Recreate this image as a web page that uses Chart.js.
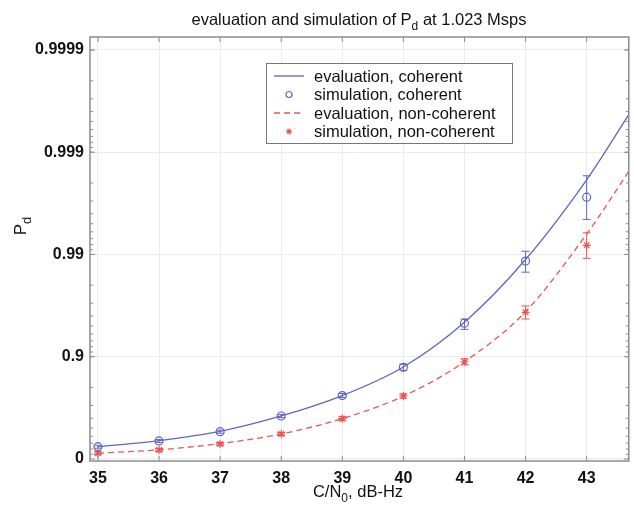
<!DOCTYPE html>
<html>
<head>
<meta charset="utf-8">
<script src="https://cdn.jsdelivr.net/npm/chart.js@4/dist/chart.umd.min.js"></script>
<style>
  html, body { margin: 0; padding: 0; background: #fff; }
  canvas { display: block; }
</style>
</head>
<body>
<canvas id="myChart" width="634" height="507"></canvas>
<script>
// C/N0 in dB-Hz
const snr = [35, 36, 37, 38, 39, 40, 41, 42, 43];
// simulated Pd with error bar limits
const cohSim = [0.241, 0.333, 0.459, 0.620, 0.760, 0.873, 0.953, 0.9884, 0.99725];
const cohLo  = [0.215, 0.310, 0.440, 0.606, 0.749, 0.8642, 0.9460, 0.9851, 0.99546];
const cohHi  = [0.267, 0.356, 0.478, 0.633, 0.771, 0.8814, 0.9572, 0.9907, 0.99830];
const ncSim  = [0.121, 0.183, 0.287, 0.430, 0.597, 0.758, 0.888, 0.9632, 0.99187];
const ncLo   = [0.090, 0.155, 0.262, 0.410, 0.578, 0.746, 0.8798, 0.9572, 0.98909];
const ncHi   = [0.151, 0.211, 0.311, 0.449, 0.615, 0.769, 0.8953, 0.9681, 0.99386];
// evaluated curves
const evalSnr = [35, 36, 37, 38, 39, 40, 41, 42, 43, 43.7];
const cohEval = [0.241, 0.339, 0.463, 0.620, 0.760, 0.874, 0.954, 0.9888, 0.99814, 0.99958];
const ncEval  = [0.121, 0.187, 0.292, 0.431, 0.597, 0.757, 0.888, 0.9637, 0.99369, 0.99849];
// y tick labels (probability scale)
const yTickLabels = ['0', '0.9', '0.99', '0.999', '0.9999'];

const blue = '#6065c6';
const red = '#ef5252';

// probability -> "number of nines"
function nines(p) {
    return -Math.log10(1 - p);
}

function pts(xs, ys) {
    return xs.map((x, i) => ({x: x, y: nines(ys[i])}));
}

const errBars = [
    {lo: cohLo, hi: cohHi, color: blue},
    {lo: ncLo, hi: ncHi, color: red}
];

const datasets = [
    {
        label: 'evaluation, coherent',
        data: pts(evalSnr, cohEval),
        showLine: true, borderColor: blue, borderWidth: 1.3,
        pointRadius: 0, cubicInterpolationMode: 'monotone'
    },
    {
        label: 'simulation, coherent',
        data: pts(snr, cohSim),
        showLine: false, borderColor: blue, backgroundColor: 'transparent',
        pointStyle: 'circle', pointRadius: 4, pointBorderWidth: 1.2
    },
    {
        label: 'evaluation, non-coherent',
        data: pts(evalSnr, ncEval),
        showLine: true, borderColor: red, borderWidth: 1.3, borderDash: [6, 4],
        pointRadius: 0, cubicInterpolationMode: 'monotone'
    },
    {
        label: 'simulation, non-coherent',
        data: pts(snr, ncSim),
        showLine: false, borderColor: red, backgroundColor: red,
        pointStyle: 'star', pointRadius: 4, pointBorderWidth: 1.2
    }
];

function drawSubText(ctx, parts, cx, y, size) {
    // parts: [text, isSub]
    let w = 0;
    for (const p of parts) {
        ctx.font = (p[1] ? Math.round(size * 0.75) : size) + 'px "Liberation Sans", Arial, sans-serif';
        w += ctx.measureText(p[0]).width;
    }
    let x = cx - w / 2;
    ctx.textAlign = 'left';
    ctx.textBaseline = 'alphabetic';
    for (const p of parts) {
        ctx.font = (p[1] ? Math.round(size * 0.75) : size) + 'px "Liberation Sans", Arial, sans-serif';
        ctx.fillText(p[0], x, p[1] ? y + size * 0.3 : y);
        x += ctx.measureText(p[0]).width;
    }
}

const decorPlugin = {
    id: 'decor',
    beforeDatasetsDraw(chart) {
        const ctx = chart.ctx, xs = chart.scales.x, ys = chart.scales.y;
        ctx.save();
        ctx.lineWidth = 1;
        for (const eb of errBars) {
            ctx.strokeStyle = eb.color;
            snr.forEach((s, i) => {
                const px = xs.getPixelForValue(s);
                const y1 = ys.getPixelForValue(nines(eb.lo[i]));
                const y2 = ys.getPixelForValue(nines(eb.hi[i]));
                ctx.beginPath();
                ctx.moveTo(px, y1); ctx.lineTo(px, y2);
                ctx.moveTo(px - 4, y1); ctx.lineTo(px + 4, y1);
                ctx.moveTo(px - 4, y2); ctx.lineTo(px + 4, y2);
                ctx.stroke();
            });
        }
        ctx.restore();
    },
    afterDraw(chart) {
        const ctx = chart.ctx, a = chart.chartArea, xs = chart.scales.x, ys = chart.scales.y;
        ctx.save();
        // frame
        ctx.strokeStyle = '#8c8c8c';
        ctx.lineWidth = 1.5;
        ctx.strokeRect(a.left, a.top, a.right - a.left, a.bottom - a.top);
        // inner tick marks
        ctx.lineWidth = 1;
        ctx.beginPath();
        for (const t of snr) {
            const px = xs.getPixelForValue(t);
            ctx.moveTo(px, a.bottom); ctx.lineTo(px, a.bottom - 5);
            ctx.moveTo(px, a.top); ctx.lineTo(px, a.top + 5);
        }
        for (let d = 0; d < 4; d++) {
            for (let k = 0; k <= 9; k++) {
                const v = k === 0 ? d : d - Math.log10(1 - k / 10);
                const py = ys.getPixelForValue(v);
                const len = k === 0 ? 5 : 3;
                ctx.moveTo(a.left, py); ctx.lineTo(a.left + len, py);
                ctx.moveTo(a.right, py); ctx.lineTo(a.right - len, py);
            }
        }
        const top = ys.getPixelForValue(4);
        ctx.moveTo(a.left, top); ctx.lineTo(a.left + 5, top);
        ctx.moveTo(a.right, top); ctx.lineTo(a.right - 5, top);
        ctx.stroke();

        // titles
        ctx.fillStyle = '#111';
        drawSubText(ctx, [['evaluation and simulation of P', false], ['d', true], [' at 1.023 Msps', false]],
            359, 25, 16.5);
        drawSubText(ctx, [['C/N', false], ['0', true], [', dB-Hz', false]],
            358, 497, 16.5);
        ctx.save();
        ctx.translate(26, 226);
        ctx.rotate(-Math.PI / 2);
        drawSubText(ctx, [['P', false], ['d', true]], 0, 0, 17);
        ctx.restore();

        // legend
        const lx = 266, ly = 63, lw = 246, lh = 80;
        ctx.fillStyle = '#fff';
        ctx.fillRect(lx, ly, lw, lh);
        ctx.strokeStyle = '#777';
        ctx.lineWidth = 1;
        ctx.strokeRect(lx + 0.5, ly + 0.5, lw, lh);
        chart.data.datasets.forEach((ds, i) => {
            const cy = ly + 13 + i * 18.5;
            if (ds.showLine) {
                ctx.save();
                ctx.strokeStyle = ds.borderColor;
                ctx.lineWidth = ds.borderWidth;
                ctx.setLineDash(ds.borderDash || []);
                ctx.beginPath();
                ctx.moveTo(lx + 8, cy); ctx.lineTo(lx + 38, cy);
                ctx.stroke();
                ctx.restore();
            } else {
                ctx.save();
                ctx.strokeStyle = ds.borderColor;
                ctx.fillStyle = ds.backgroundColor;
                ctx.lineWidth = 1.2;
                Chart.helpers.drawPoint(ctx, {pointStyle: ds.pointStyle, radius: 3, borderWidth: 1.2}, lx + 23, cy);
                ctx.restore();
            }
            ctx.fillStyle = '#111';
            ctx.font = '16.5px "Liberation Sans", Arial, sans-serif';
            ctx.textAlign = 'left';
            ctx.textBaseline = 'middle';
            ctx.fillText(ds.label, lx + 48, cy + 1);
        });
        ctx.restore();
    }
};

const tickFont = {family: '"Liberation Sans", Arial, sans-serif', size: 16, weight: 'bold'};

new Chart(document.getElementById('myChart'), {
    type: 'scatter',
    data: {datasets: datasets},
    plugins: [decorPlugin],
    options: {
        responsive: false,
        animation: false,
        layout: {padding: {left: 0, top: 37, right: 3, bottom: 0}},
        plugins: {legend: {display: false}, tooltip: {enabled: false}},
        scales: {
            x: {
                type: 'linear', min: 34.87, max: 43.69,
                afterBuildTicks: (s) => { s.ticks = snr.map(v => ({value: v})); },
                afterFit: (s) => { s.height = 46; },
                ticks: {font: tickFont, color: '#111', padding: 8, maxRotation: 0,
                        callback: (v) => String(v)},
                grid: {color: '#ebebeb', drawTicks: false},
                border: {display: false}
            },
            y: {
                type: 'linear', min: -0.02, max: 4.127,
                afterBuildTicks: (s) => { s.ticks = yTickLabels.map((t, i) => ({value: i})); },
                afterFit: (s) => { s.width = 90; },
                ticks: {font: tickFont, color: '#111', padding: 6,
                        callback: (v) => yTickLabels[v]},
                grid: {color: '#ebebeb', drawTicks: false},
                border: {display: false}
            }
        }
    }
});
</script>
</body>
</html>
